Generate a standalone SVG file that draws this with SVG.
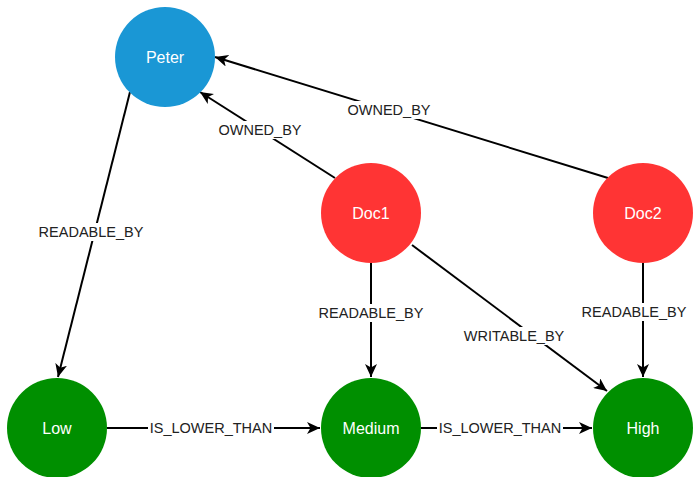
<svg xmlns="http://www.w3.org/2000/svg" width="700" height="477" viewBox="0 0 700 477">
  <style>
    .edge { stroke: #000; stroke-width: 2; fill: none; marker-end: url(#arrow); }
    .elabel { font-family: "Liberation Sans", Arial, sans-serif; font-size: 14.5px; fill: #222; text-anchor: middle; dominant-baseline: central; }
    .lbg { fill: #fff; }
    .ntext { font-family: "Liberation Sans", Arial, sans-serif; font-size: 16px; fill: #fff; text-anchor: middle; dominant-baseline: central; }
    .person { fill: #1a97d5; }
    .doc { fill: #ff3434; }
    .level { fill: #008f00; }
  </style>
  <defs>
    <marker id="arrow" markerUnits="userSpaceOnUse" markerWidth="14" markerHeight="12" refX="13" refY="6" orient="auto">
      <path d="M0,0 L13,6 L0,12 L3.5,6 z" fill="#000"/>
    </marker>
  </defs>
  <rect width="700" height="477" fill="#fff"/>

  <g id="connectors">
    <path class="edge" d="M130,92 L58,377"/>
    <path class="edge" d="M335,178 L200,92"/>
    <path class="edge" d="M608,178 L215,57"/>
    <path class="edge" d="M371,263 L371,377"/>
    <path class="edge" d="M412,245 L607,391"/>
    <path class="edge" d="M643,263 L643,377"/>
    <path class="edge" d="M107,428 L320,428"/>
    <path class="edge" d="M421,428 L592,428"/>

    <rect class="lbg" x="37" y="223" width="108" height="18"/>
    <text class="elabel" x="91" y="232">READABLE_BY</text>
    <rect class="lbg" x="216" y="121" width="88" height="18"/>
    <text class="elabel" x="260" y="130">OWNED_BY</text>
    <rect class="lbg" x="345" y="101" width="88" height="18"/>
    <text class="elabel" x="389" y="110">OWNED_BY</text>
    <rect class="lbg" x="317" y="304" width="108" height="18"/>
    <text class="elabel" x="371" y="313">READABLE_BY</text>
    <rect class="lbg" x="461" y="327" width="106" height="18"/>
    <text class="elabel" x="514" y="336">WRITABLE_BY</text>
    <rect class="lbg" x="580" y="303" width="108" height="18"/>
    <text class="elabel" x="634" y="312">READABLE_BY</text>
    <rect class="lbg" x="148" y="419" width="126" height="18"/>
    <text class="elabel" x="211" y="428">IS_LOWER_THAN</text>
    <rect class="lbg" x="437" y="419" width="126" height="18"/>
    <text class="elabel" x="500" y="428">IS_LOWER_THAN</text>
  </g>

  <g id="peter">
    <circle class="person" cx="165" cy="57" r="50"/>
    <text class="ntext" x="165" y="57">Peter</text>
  </g>
  <g id="doc1">
    <circle class="doc" cx="371" cy="213" r="50"/>
    <text class="ntext" x="371" y="213">Doc1</text>
  </g>
  <g id="doc2">
    <circle class="doc" cx="643" cy="213" r="50"/>
    <text class="ntext" x="643" y="213">Doc2</text>
  </g>
  <g id="low">
    <circle class="level" cx="57" cy="428" r="50"/>
    <text class="ntext" x="57" y="428">Low</text>
  </g>
  <g id="medium">
    <circle class="level" cx="371" cy="428" r="50"/>
    <text class="ntext" x="371" y="428">Medium</text>
  </g>
  <g id="high">
    <circle class="level" cx="643" cy="428" r="50"/>
    <text class="ntext" x="643" y="428">High</text>
  </g>
</svg>
